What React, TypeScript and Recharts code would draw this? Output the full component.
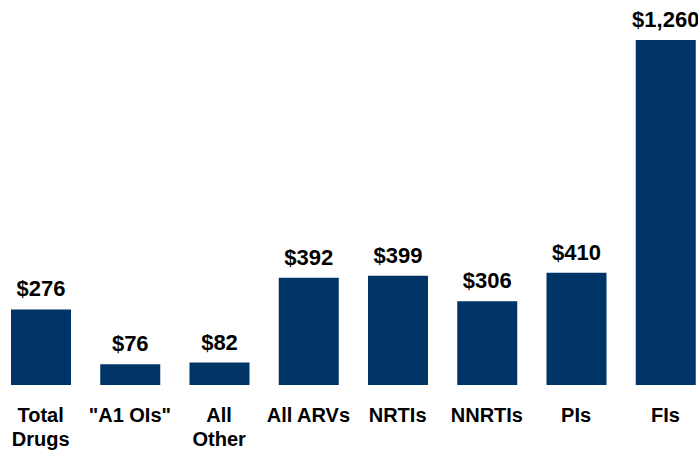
import { BarChart, Bar, XAxis, YAxis, LabelList } from 'recharts';

const categories = ['Total\nDrugs', '"A1 OIs"', 'All\nOther', 'All ARVs', 'NRTIs', 'NNRTIs', 'PIs', 'FIs'];
const costs = [276, 76, 82, 392, 399, 306, 410, 1260];

const data = categories.map((name, i) => ({ name, cost: costs[i] }));

const font = '"Liberation Sans", Arial, sans-serif';

const CategoryTick = (props: any) => {
    const { x, y, payload } = props;
    const lines = String(payload.value).split('\n');
    return (
        <text x={x} y={y} textAnchor="middle" fontFamily={font} fontWeight="bold" fontSize={20} fill="#000">
            {lines.map((line, i) => (
                <tspan key={i} x={x} dy={i === 0 ? 37 : 23.5}>
                    {line}
                </tspan>
            ))}
        </text>
    );
};

const App = () => {
    return (
        <div style={{ position: 'absolute', left: 0, top: 0, width: 698, height: 450, overflow: 'hidden', background: '#fff' }}>
            <div style={{ position: 'relative', left: -4 }}>
                <BarChart width={714} height={450} data={data} margin={{ top: 40, right: 0, bottom: 0, left: 0 }}>
                    <XAxis
                        dataKey="name"
                        height={65}
                        axisLine={false}
                        tickLine={false}
                        tickSize={0}
                        tickMargin={0}
                        interval={0}
                        tick={<CategoryTick />}
                    />
                    <YAxis hide domain={[0, 1260]} />
                    <Bar dataKey="cost" fill="#003366" barSize={60} isAnimationActive={false}>
                        <LabelList
                            dataKey="cost"
                            position="top"
                            offset={13}
                            formatter={(v: any) => '$' + Number(v).toLocaleString('en-US')}
                            style={{ fontFamily: font, fontWeight: 'bold', fontSize: 22, fill: '#000' }}
                        />
                    </Bar>
                </BarChart>
            </div>
        </div>
    );
};

export default App;
